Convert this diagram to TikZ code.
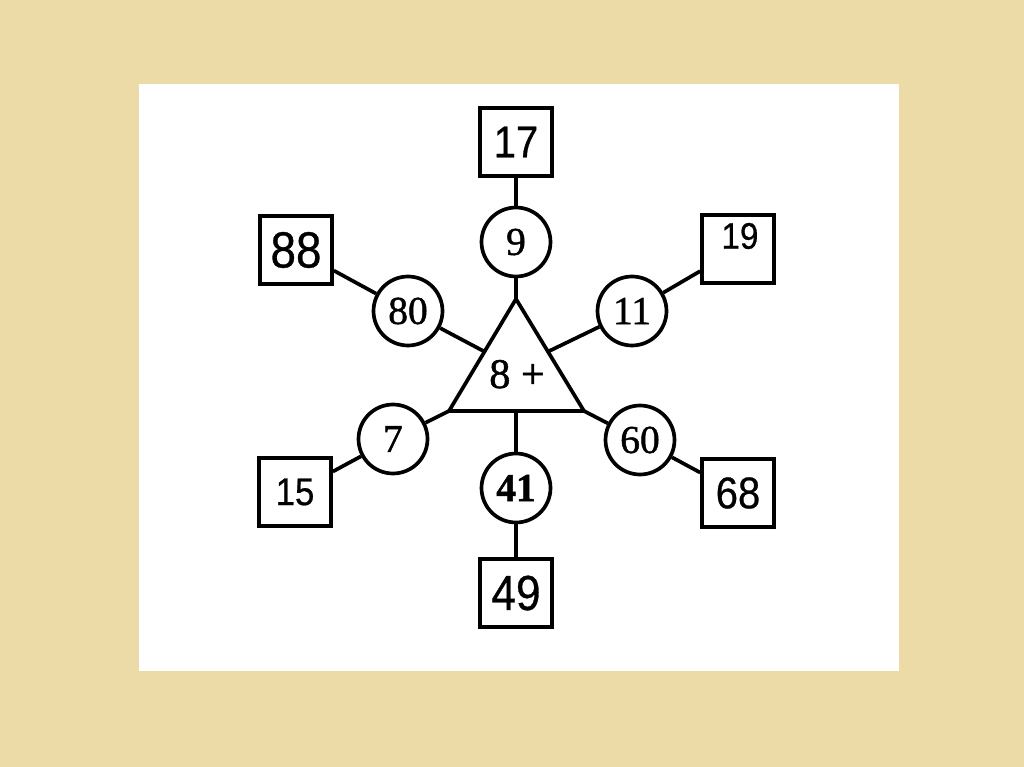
\documentclass[tikz,border=0pt]{standalone}
\usepackage{fontspec}
\setmainfont[FakeBold=1.2]{Liberation Serif}
\newfontfamily\boxfont[FakeStretch=0.9,FakeBold=0.6]{Liberation Sans}
\usetikzlibrary{calc}
\definecolor{bgtan}{RGB}{236,219,167}
\begin{document}
\begin{tikzpicture}[x=0.02cm,y=-0.02cm,line width=2.1pt,
  numbox/.style={draw,rectangle,minimum width=1.44cm,minimum height=1.36cm,inner sep=0pt},
  numcirc/.style={draw,circle,minimum size=1.38cm,inner sep=0pt,font=\fontsize{22.5}{22.5}\selectfont},
  bsz/.style={font=\boxfont\fontsize{#1}{#1}\selectfont}]
\fill[bgtan] (0,0) rectangle (1024,767);
\fill[white] (139,84) rectangle (899,671);
\useasboundingbox (0,0) rectangle (1024,767);
% triangle
\coordinate (A) at (516,299);
\coordinate (L) at (449,411);
\coordinate (R) at (584,411);
\coordinate (AL) at ($(A)!0.47!(L)$);
\coordinate (AR) at ($(A)!0.47!(R)$);
\coordinate (BM) at (A |- L);
\draw[line join=miter] (A) -- (L) -- (R) -- cycle;
\node[anchor=base,font=\fontsize{24}{24}\selectfont] (op) at (517,388) {8 +};
% nodes
\node[numbox,bsz=25.3] (b17) at (516,142) {17};
\node[numcirc] (c9) at (516,242) {9};
\node[numbox,bsz=29] (b88) at (296,250) {88};
\node[numcirc] (c80) at (408,311) {80};
\node[numbox] (b19) at (738,249) {};
\node[bsz=21] (t19) at (740,236) {19};
\node[numcirc] (c11) at (632,311) {11};
\node[numcirc] (c7) at (393,439) {7};
\node[numbox,bsz=22] (b15) at (295,492) {15};
\node[numcirc] (c60) at (640,440) {60};
\node[numbox,bsz=25.3] (b68) at (738,493) {68};
\node[numcirc] (c41) at (516,488) {\textbf{41}};
\node[numbox,bsz=28] (b49) at (516,593) {49};
% connectors
\draw (b17) -- (c9);
\draw (c9) -- (A);
\draw (b88) -- (c80);
\draw (c80) -- (AL);
\draw (b19) -- (c11);
\draw (c11) -- (AR);
\draw (b15) -- (c7);
\draw (c7) -- (L);
\draw (b68) -- (c60);
\draw (c60) -- (R);
\draw (BM) -- (c41);
\draw (c41) -- (b49);
\end{tikzpicture}
\end{document}
